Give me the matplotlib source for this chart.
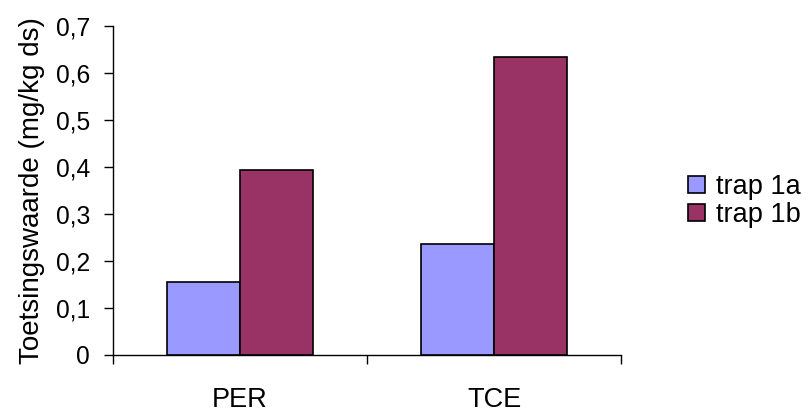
import numpy as np
import matplotlib.pyplot as plt
from matplotlib.patches import Patch
from matplotlib.ticker import FixedLocator, FuncFormatter

plt.rcParams['font.family'] = ['Liberation Sans', 'DejaVu Sans']

# ── Data ────────────────────────────────────────────────────────────────
categories = ["PER", "TCE"]
series_names = ["trap 1a", "trap 1b"]
trap_1a = [0.156, 0.236]
trap_1b = [0.394, 0.635]
colors = ["#9999FF", "#993366"]

fig = plt.figure(figsize=(8.08, 4.12), dpi=100)
ax = fig.add_axes([113 / 808, 57 / 412, 508 / 808, 329 / 412])

# ── Bars (gap width 150% → each bar is 1/3.5 of a category) ────────────
x = np.arange(len(categories))
w = 1 / 3.5
for i, (vals, name) in enumerate(zip([trap_1a, trap_1b], series_names)):
    ax.bar(x + (i - 0.5) * w, vals, width=w, color=colors[i],
           edgecolor="black", linewidth=1.2, label=name, zorder=3)

# ── Axes ────────────────────────────────────────────────────────────────
ax.set_xlim(-0.5, len(categories) - 0.5)
ax.set_ylim(0, 0.7)
ax.spines['top'].set_visible(False)
ax.spines['right'].set_visible(False)
for s in ('left', 'bottom'):
    ax.spines[s].set_linewidth(1.0)

ax.set_yticks(np.arange(0, 0.71, 0.1))
ax.yaxis.set_major_formatter(FuncFormatter(
    lambda v, p: "0" if abs(v) < 1e-9 else f"{v:.1f}".replace(".", ",")))
ax.tick_params(axis='y', length=6.5, width=1.0, labelsize=17.7, pad=10)

# category boundaries get the tick marks, labels sit in between
ax.xaxis.set_major_locator(FixedLocator([-0.5, 0.5, 1.5]))
ax.xaxis.set_minor_locator(FixedLocator(list(x)))
ax.set_xticklabels([], minor=False)
ax.set_xticklabels(categories, minor=True)
ax.tick_params(axis='x', which='major', length=6.5, width=1.0)
ax.tick_params(axis='x', which='minor', length=0, labelsize=19.5, pad=23)

ax.set_ylabel("Toetsingswaarde (mg/kg ds)", fontsize=20, labelpad=8)

# ── Legend ──────────────────────────────────────────────────────────────
handles = [Patch(facecolor=c, edgecolor="black", linewidth=1.2, label=n)
           for c, n in zip(colors, series_names)]
fig.legend(handles=handles, loc='center left',
           bbox_to_anchor=(683 / 808, 1 - 201 / 412), borderaxespad=0,
           frameon=False, fontsize=19.5, handlelength=0.6, handleheight=0.6,
           handletextpad=0.4, labelspacing=0.05, borderpad=0.2)

fig.savefig("out.png", dpi=100, facecolor="white")
